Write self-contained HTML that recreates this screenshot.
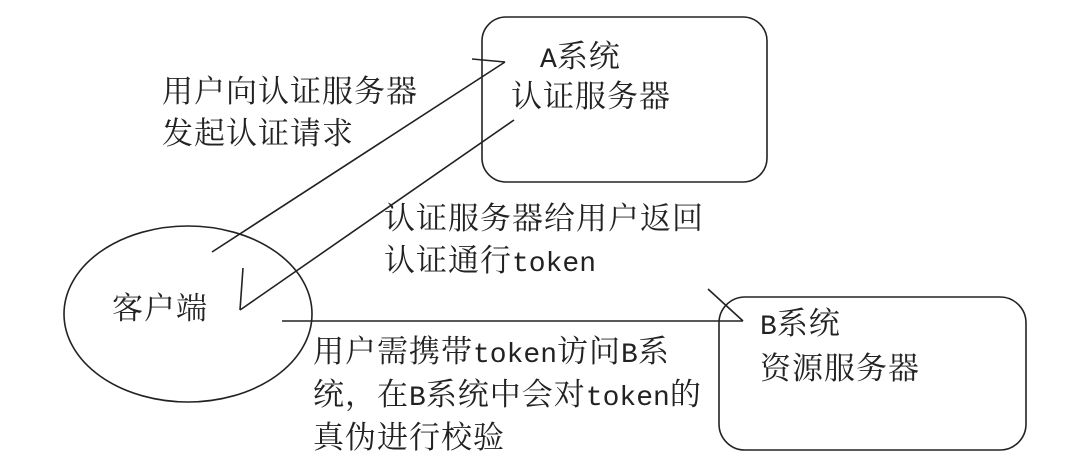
<!DOCTYPE html>
<html><head><meta charset="utf-8"><style>
html,body{margin:0;padding:0;background:#fff;}
body{width:1091px;height:467px;position:relative;overflow:hidden;}
svg{position:absolute;left:0;top:0;}
.t{position:absolute;white-space:nowrap;font-family:"Liberation Mono","Noto Serif CJK SC","Noto Sans CJK SC",serif;font-size:31px;letter-spacing:1px;line-height:42px;color:#222;}
.l{font-size:28px;letter-spacing:0;}
</style></head><body>
<svg width="1091" height="467" viewBox="0 0 1091 467" fill="none" stroke="#222" stroke-width="1.6">
<rect x="482" y="17" width="285" height="165" rx="24"/>
<rect x="719" y="297" width="307" height="153" rx="26"/>
<ellipse cx="188" cy="314" rx="124" ry="88"/>
<line x1="212" y1="252" x2="505" y2="62"/>
<line x1="472" y1="59" x2="505" y2="62"/>
<line x1="514" y1="120" x2="240" y2="310"/>
<line x1="243" y1="268" x2="240" y2="310"/>
<line x1="282" y1="321" x2="743" y2="321"/>
<line x1="708" y1="289" x2="743" y2="321"/>
</svg>
<div class="t" style="left:162px;top:74px;">用户向认证服务器<br>发起认证请求</div>
<div class="t" style="left:540px;top:39px;"><span class="l">A</span>系统</div>
<div class="t" style="left:511px;top:79px;">认证服务器</div>
<div class="t" style="left:384px;top:201px;">认证服务器给用户返回<br>认证通行<span class="l">token</span></div>
<div class="t" style="left:112px;top:291px;">客户端</div>
<div class="t" style="left:760px;top:306px;"><span class="l">B</span>系统</div>
<div class="t" style="left:760px;top:351px;">资源服务器</div>
<div class="t" style="left:313px;top:334px;">用户需携带<span class="l">token</span>访问<span class="l">B</span>系<br>统，在<span class="l">B</span>系统中会对<span class="l">token</span>的<br>真伪进行校验</div>
</body></html>
